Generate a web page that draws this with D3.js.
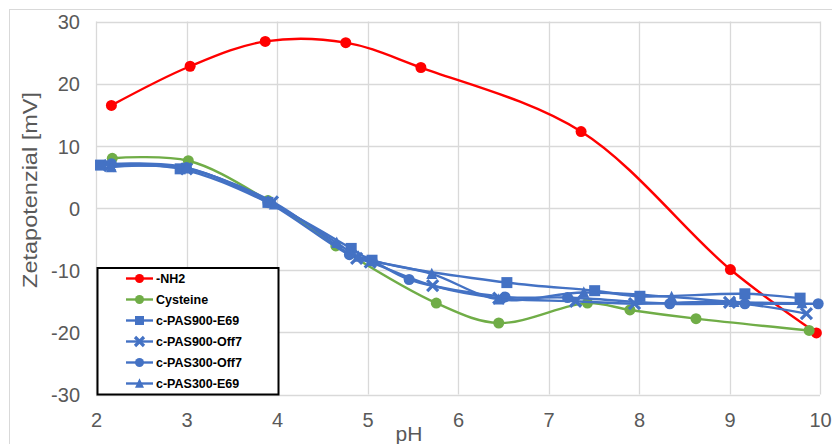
<!DOCTYPE html>
<html>
<head>
<meta charset="utf-8">
<script src="https://cdn.jsdelivr.net/npm/d3@7"></script>
<style>
  html, body { margin: 0; padding: 0; background: #ffffff; }
  svg { display: block; }
</style>
</head>
<body>
<svg id="chart" width="832" height="444"></svg>
<script>
// ---- data ----
const xTicks = [2, 3, 4, 5, 6, 7, 8, 9, 10];
const yTicks = [-30, -20, -10, 0, 10, 20, 30];

const seriesNames = ["-NH2", "Cysteine", "c-PAS900-E69", "c-PAS900-Off7", "c-PAS300-Off7", "c-PAS300-E69"];

const nh2X = [2.17, 3.04, 3.87, 4.76, 5.59, 7.36, 9.01, 9.96];
const nh2Y = [16.5, 22.8, 26.8, 26.6, 22.6, 12.3, -9.9, -20.1];

const cysX = [2.18, 3.02, 3.9, 4.65, 5.76, 6.45, 7.43, 7.9, 8.63, 9.88];
const cysY = [8.0, 7.6, 1.2, -6.1, -15.3, -18.5, -15.3, -16.4, -17.8, -19.7];

const pas900E69X = [2.05, 2.93, 3.9, 4.82, 5.05, 6.54, 7.51, 8.01, 9.17, 9.78];
const pas900E69Y = [6.9, 6.3, 0.9, -6.5, -8.4, -12.0, -13.3, -14.2, -13.8, -14.5];

const pas900Off7X = [2.15, 3.0, 3.95, 4.88, 5.03, 5.72, 6.45, 7.3, 7.95, 9.0, 9.85];
const pas900Off7Y = [6.8, 6.3, 1.0, -8.1, -8.7, -12.5, -14.5, -15.0, -15.4, -15.2, -17.0];

const pas300Off7X = [2.17, 3.0, 3.9, 4.8, 5.05, 5.46, 6.52, 7.21, 8.34, 9.17, 9.98];
const pas300Off7Y = [7.1, 6.5, 0.9, -7.5, -8.5, -11.5, -14.3, -14.4, -15.4, -15.4, -15.4];

const pas300E69X = [2.17, 3.0, 3.97, 4.66, 4.9, 5.71, 6.45, 7.39, 8.36, 9.05, 9.8];
const pas300E69Y = [6.6, 6.4, 0.6, -5.6, -7.8, -10.6, -14.7, -13.6, -14.3, -15.1, -15.3];

const seriesColors = ["#FF0000", "#70AD47", "#4472C4", "#4472C4", "#4472C4", "#4472C4"];
const seriesMarkers = ["circle", "circle", "square", "cross", "circle", "triangle"];

// ---- build ----
const series = [
  [nh2X, nh2Y], [cysX, cysY], [pas900E69X, pas900E69Y],
  [pas900Off7X, pas900Off7Y], [pas300Off7X, pas300Off7Y], [pas300E69X, pas300E69Y]
].map(([xs, ys], i) => ({
  name: seriesNames[i], color: seriesColors[i], marker: seriesMarkers[i],
  pts: xs.map((x, j) => ({ x, y: ys[j] }))
}));

const svg = d3.select("#chart");
const pLeft = 96, pRight = 820, pTop = 21.5, pBottom = 394.5;

const x = d3.scaleLinear().domain([2, 10]).range([pLeft, pRight]);
const y = d3.scaleLinear().domain([-30, 30]).range([pBottom, pTop]);

// outer chart border
svg.append("rect").attr("x", 9.5).attr("y", 9.5).attr("width", 840).attr("height", 450)
  .attr("fill", "#ffffff").attr("stroke", "#d9d9d9").attr("stroke-width", 1);

// gridlines
const grid = svg.append("g");
grid.selectAll(".gx").data(xTicks).join("line")
  .attr("x1", d => Math.round(x(d)) + 0.5).attr("x2", d => Math.round(x(d)) + 0.5)
  .attr("y1", pTop).attr("y2", pBottom)
  .attr("stroke", "#d9d9d9").attr("stroke-width", 1.3);
grid.selectAll(".gy").data(yTicks).join("line")
  .attr("y1", d => Math.round(y(d)) + 0.5).attr("y2", d => Math.round(y(d)) + 0.5)
  .attr("x1", pLeft).attr("x2", pRight)
  .attr("stroke", "#d9d9d9").attr("stroke-width", 1.3);

// axes (labels only, Excel style)
const fmt = d => String(d);
const axX = svg.append("g").attr("transform", `translate(0,${pBottom})`)
  .call(d3.axisBottom(x).tickValues(xTicks).tickSize(0).tickPadding(0).tickFormat(fmt));
axX.select(".domain").remove();
axX.selectAll("text").attr("dy", null).attr("y", 32)
  .attr("font-family", "Liberation Sans, Arial, sans-serif").attr("font-size", 20).attr("fill", "#595959");

const axY = svg.append("g").attr("transform", `translate(${pLeft},0)`)
  .call(d3.axisLeft(y).tickValues(yTicks).tickSize(0).tickPadding(16).tickFormat(fmt));
axY.select(".domain").remove();
axY.selectAll("text").attr("dy", "0.36em")
  .attr("font-family", "Liberation Sans, Arial, sans-serif").attr("font-size", 20).attr("fill", "#595959");

// axis titles
svg.append("text").attr("x", 409).attr("y", 441).attr("text-anchor", "middle")
  .attr("font-family", "Liberation Sans, Arial, sans-serif").attr("font-size", 21).attr("fill", "#595959")
  .text("pH");
svg.append("text").attr("transform", "translate(37,190) rotate(-90)").attr("text-anchor", "middle")
  .attr("font-family", "Liberation Sans, Arial, sans-serif").attr("font-size", 21).attr("fill", "#595959")
  .attr("textLength", 196).attr("lengthAdjust", "spacingAndGlyphs")
  .text("Zetapotenzial [mV]");

// marker drawer
function drawMarker(g, type, cx, cy, color, s) {
  if (type === "circle") {
    g.append("circle").attr("cx", cx).attr("cy", cy).attr("r", s / 2).attr("fill", color);
  } else if (type === "square") {
    g.append("rect").attr("x", cx - s / 2).attr("y", cy - s / 2).attr("width", s).attr("height", s).attr("fill", color);
  } else if (type === "triangle") {
    const h = s * 0.95;
    g.append("path").attr("d", `M${cx},${cy - h / 2 - 1} L${cx + s / 2},${cy + h / 2} L${cx - s / 2},${cy + h / 2} Z`).attr("fill", color);
  } else if (type === "cross") {
    const r = s / 2;
    g.append("path").attr("d", `M${cx - r},${cy - r} L${cx + r},${cy + r} M${cx + r},${cy - r} L${cx - r},${cy + r}`)
      .attr("stroke", color).attr("stroke-width", 3.2).attr("fill", "none");
  }
}

const line = d3.line().x(d => x(d.x)).y(d => y(d.y)).curve(d3.curveCatmullRom.alpha(0.5));

const plot = svg.append("g");
series.forEach(s => {
  const g = plot.append("g");
  g.append("path").datum(s.pts).attr("d", line).attr("fill", "none")
    .attr("stroke", s.color).attr("stroke-width", 2.4);
  s.pts.forEach(p => drawMarker(g, s.marker, x(p.x), y(p.y), s.color, 11));
});

// legend
const lg = svg.append("g");
lg.append("rect").attr("x", 97.5).attr("y", 268).attr("width", 181).attr("height", 126.5)
  .attr("fill", "#ffffff").attr("stroke", "#000000").attr("stroke-width", 2);
const legendY = d3.scalePoint().domain(seriesNames).range([278.5, 383.5]);
series.forEach(s => {
  const cy = legendY(s.name);
  lg.append("line").attr("x1", 126).attr("x2", 153).attr("y1", cy).attr("y2", cy)
    .attr("stroke", s.color).attr("stroke-width", 2.4);
  drawMarker(lg, s.marker, 139.5, cy, s.color, 9);
  lg.append("text").attr("x", 156).attr("y", cy).attr("dy", "0.36em")
    .attr("font-family", "Liberation Sans, Arial, sans-serif").attr("font-weight", "bold")
    .attr("font-size", 12.5).attr("fill", "#000000").text(s.name);
});
</script>
</body>
</html>
